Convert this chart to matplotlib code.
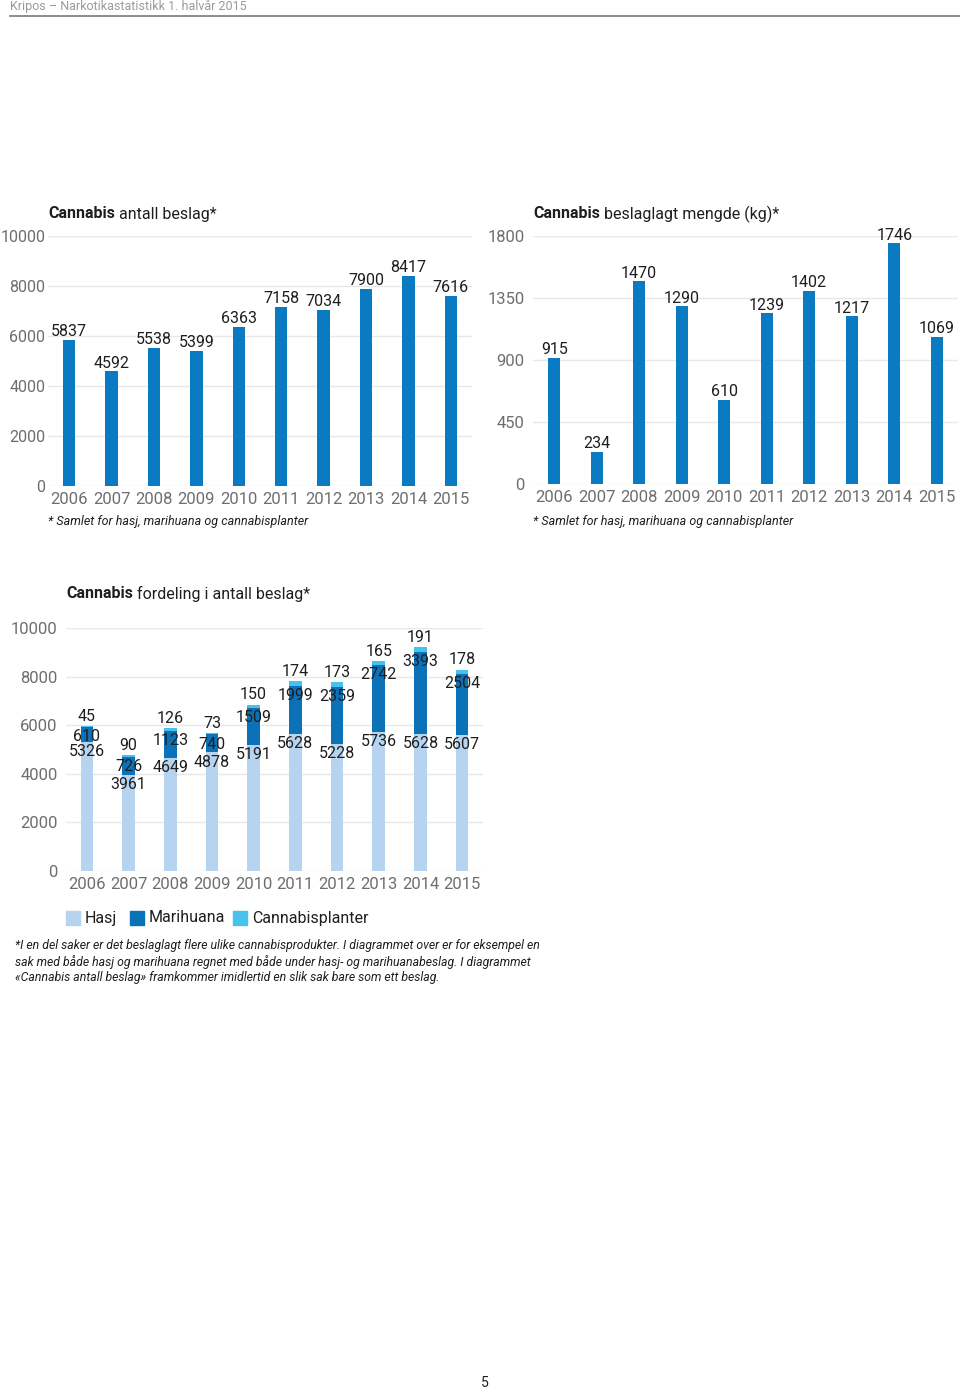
import matplotlib
matplotlib.use("Agg")
import matplotlib.pyplot as plt
from matplotlib.patches import Rectangle

plt.rcParams['font.family'] = ['Roboto', 'DejaVu Sans']

W, H = 960, 1392

years = ['2006', '2007', '2008', '2009', '2010', '2011', '2012', '2013', '2014', '2015']
antall_beslag = [5837, 4592, 5538, 5399, 6363, 7158, 7034, 7900, 8417, 7616]
mengde_kg = [915, 234, 1470, 1290, 610, 1239, 1402, 1217, 1746, 1069]
hasj = [5326, 3961, 4649, 4878, 5191, 5628, 5228, 5736, 5628, 5607]
marihuana = [610, 726, 1123, 740, 1509, 1999, 2359, 2742, 3393, 2504]
planter = [45, 90, 126, 73, 150, 174, 173, 165, 191, 178]

ticks1 = [0, 2000, 4000, 6000, 8000, 10000]
ticks2 = [0, 450, 900, 1350, 1800]

BLUE = '#0a7bc2'
HASJ_C = '#b6d4f0'
MARI_C = '#0b72b8'
PLANT_C = '#47c2ef'
GRID = '#e8e8e8'
TICK_C = '#6e6e6e'
TXT = '#1e1e1e'

fig = plt.figure(figsize=(W / 100, H / 100), dpi=100)


def box(x0, y0, x1, y1):
    return [x0 / W, 1 - y1 / H, (x1 - x0) / W, (y1 - y0) / H]


def px(x, y):
    return x / W, 1 - y / H


def style_axes(ax, ticks, ypad=6, ysize=12):
    ax.set_ylim(0, ticks[-1])
    ax.set_xlim(-0.5, len(years) - 0.5)
    ax.set_yticks(ticks)
    ax.set_yticklabels([str(t) for t in ticks])
    ax.set_xticks(range(len(years)))
    ax.set_xticklabels(years)
    for s in ax.spines.values():
        s.set_visible(False)
    ax.tick_params(axis='both', length=0, labelsize=12, colors=TICK_C)
    ax.tick_params(axis='y', pad=ypad, labelsize=ysize)
    ax.tick_params(axis='x', pad=4)
    ax.grid(axis='y', color=GRID, linewidth=1)
    ax.set_axisbelow(True)


def title(x, y, rest):
    t = fig.text(*px(x, y), 'Cannabis', fontsize=11.5, fontweight='bold',
                 color=TXT, va='center', ha='left')
    r = fig.canvas.get_renderer()
    bb = t.get_window_extent(renderer=r)
    fig.text(bb.x1 / W + 4 / W, 1 - y / H, rest, fontsize=11.5,
             color=TXT, va='center', ha='left')


# Chart 1
ax1 = fig.add_axes(box(48, 236, 472, 486))
ax1.bar(range(len(years)), antall_beslag, width=0.29, color=BLUE, zorder=2)
style_axes(ax1, ticks1, ypad=2, ysize=11.5)
for i, v in enumerate(antall_beslag):
    ax1.annotate(str(v), (i, v), xytext=(0, 0.5), textcoords='offset points',
                 ha='center', va='bottom', fontsize=11.5, color=TXT)
title(48, 214, 'antall beslag*')
fig.text(*px(48, 521), '* Samlet for hasj, marihuana og cannabisplanter',
         fontsize=9, style='italic', color=TXT, va='center')

# Chart 2
ax2 = fig.add_axes(box(533, 236, 958, 484))
ax2.bar(range(len(years)), mengde_kg, width=0.29, color=BLUE, zorder=2)
style_axes(ax2, ticks2)
for i, v in enumerate(mengde_kg):
    ax2.annotate(str(v), (i, v), xytext=(0, 0.5), textcoords='offset points',
                 ha='center', va='bottom', fontsize=11.5, color=TXT)
title(533, 214, 'beslaglagt mengde (kg)*')
fig.text(*px(533, 521), '* Samlet for hasj, marihuana og cannabisplanter',
         fontsize=9, style='italic', color=TXT, va='center')

# Chart 3
ax3 = fig.add_axes(box(66, 628, 483, 871))
x = range(len(years))
bottom2 = [h + m for h, m in zip(hasj, marihuana)]
ax3.bar(x, hasj, width=0.3, color=HASJ_C, zorder=2)
ax3.bar(x, marihuana, width=0.3, bottom=hasj, color=MARI_C, zorder=2)
ax3.bar(x, planter, width=0.3, bottom=bottom2, color=PLANT_C, zorder=2)
style_axes(ax3, ticks1)
for i in x:
    ax3.annotate(str(hasj[i]), (i, hasj[i]), xytext=(0, -1.5), textcoords='offset points',
                 ha='center', va='top', fontsize=11.5, color=TXT, zorder=5)
    ax3.annotate(str(marihuana[i]), (i, bottom2[i]), xytext=(0, -1.5), textcoords='offset points',
                 ha='center', va='top', fontsize=11.5, color=TXT, zorder=5)
    ax3.annotate(str(planter[i]), (i, bottom2[i] + planter[i]), xytext=(0, 1.5),
                 textcoords='offset points', ha='center', va='bottom', fontsize=11.5,
                 color=TXT, zorder=5)
title(66, 594, 'fordeling i antall beslag*')

# legend
for (x0, c, lab) in [(66, HASJ_C, 'Hasj'), (130, MARI_C, 'Marihuana'), (233, PLANT_C, 'Cannabisplanter')]:
    fig.patches.append(Rectangle(px(x0, 925), 14 / W, 14 / H, transform=fig.transFigure,
                                 color=c, figure=fig))
    fig.text(*px(x0 + 19, 918), lab, fontsize=11.5, color=TXT, va='center')

notes = [
    '*I en del saker er det beslaglagt flere ulike cannabisprodukter. I diagrammet over er for eksempel en',
    'sak med både hasj og marihuana regnet med både under hasj- og marihuanabeslag. I diagrammet',
    '«Cannabis antall beslag» framkommer imidlertid en slik sak bare som ett beslag.',
]
for k, line in enumerate(notes):
    fig.text(*px(15, 946 + 16 * k), line, fontsize=8.8, style='italic', color=TXT, va='center')

# header
fig.text(*px(10, 6), 'Kripos – Narkotikastatistikk 1. halvår 2015', fontsize=9,
         color='#9a9a9a', va='center')
fig.add_artist(plt.Line2D([10 / W, 1], [1 - 16 / H, 1 - 16 / H], color='#7a7a7a',
                          linewidth=1.2, transform=fig.transFigure))
fig.text(*px(485, 1383), '5', fontsize=10, color=TXT, ha='center', va='center')

fig.savefig('out.png', dpi=100)
